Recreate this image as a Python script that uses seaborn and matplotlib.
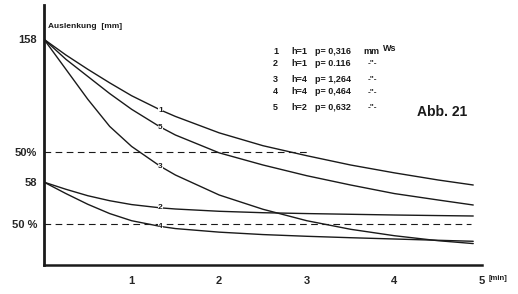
import numpy as np
import pandas as pd
import matplotlib
matplotlib.use("Agg")
import matplotlib.pyplot as plt
import seaborn as sns

# ---- data ----
t = [0, 0.25, 0.5, 0.75, 1, 1.33, 1.5, 2, 2.5, 3, 3.5, 4, 4.5, 4.9]
curve1 = [158, 147, 137, 127.5, 118.5, 108.5, 104, 92.5, 83.5, 76.5, 70, 64.5, 59.5, 56]
curve5 = [158, 144, 132, 120, 109, 96.5, 91, 78.5, 70, 62.5, 56, 50, 45.5, 42]
curve3 = [158, 137, 116, 97, 83, 69, 63, 49, 39, 31, 25, 20.5, 17, 15]
curve2 = [58, 53, 48.5, 45, 42.3, 40, 39.2, 37.6, 36.6, 36, 35.5, 35, 34.6, 34.3]
curve4 = [58, 50, 42.5, 36, 31, 27, 25.5, 23, 21.3, 20.1, 19.1, 18.2, 17.3, 16.6]
curve_names = ["1", "5", "3", "2", "4"]
label_x = 1.33
label_y = [108.5, 96.5, 69, 40, 27]

half_levels = [79, 29]
half_ends = [3.0, 4.87]

ytick_vals = [158, 79, 58, 29]
ytick_labels = ["158", "50%", "58", "50 %"]
xtick_vals = [1, 2, 3, 4, 5]

legend_rows = [
    ("1", "h=1", "p= 0,316", "mm"),
    ("2", "h=1", "p= 0.116", '-"-'),
    ("3", "h=4", "p= 1,264", '-"-'),
    ("4", "h=4", "p= 0,464", '-"-'),
    ("5", "h=2", "p= 0,632", '-"-'),
]

rows = []
for name, ys in zip(curve_names, [curve1, curve5, curve3, curve2, curve4]):
    for xv, yv in zip(t, ys):
        rows.append({"curve": name, "t": xv, "y": yv})
df = pd.DataFrame(rows)

sns.set_style("white")
plt.rcParams["font.family"] = ["Liberation Sans", "DejaVu Sans"]

fig = plt.figure(figsize=(5.18, 2.94), dpi=100)
ax = fig.add_axes([44 / 518, 29 / 294, 438 / 518, 260 / 294])

sns.lineplot(data=df, x="t", y="y", hue="curve", units="curve", estimator=None,
             palette={n: "#1a1a1a" for n in curve_names}, linewidth=1.0,
             legend=False, ax=ax)

for lvl, xe in zip(half_levels, half_ends):
    ax.plot([0, xe], [lvl, lvl], color="#1a1a1a", lw=0.8, dashes=(6, 4))

for name, ly in zip(curve_names, label_y):
    ax.text(label_x, ly, name, ha="center", va="center", fontsize=6,
            fontweight="bold", color="#1a1a1a",
            bbox=dict(facecolor="white", edgecolor="none", pad=0.3))

ax.set_xlim(0, 5)
ax.set_ylim(0, 182)
ax.set_xlabel("")
ax.set_ylabel("")

ax.set_xticks(xtick_vals)
ax.set_xticklabels([str(v) for v in xtick_vals], fontsize=8, fontweight="bold")
ax.set_yticks(ytick_vals)
ax.set_yticklabels(ytick_labels, fontsize=8, fontweight="bold")
ax.tick_params(axis="y", direction="out", length=4, width=1.5, pad=1, color="#1a1a1a")
ax.tick_params(axis="x", direction="inout", length=6, width=1.2, pad=5, color="#1a1a1a")
yt = ax.yaxis.get_major_ticks()
for i in (1, 3):
    yt[i].tick1line.set_visible(False)

for s in ("top", "right"):
    ax.spines[s].set_visible(False)
ax.spines["left"].set_linewidth(2.0)
ax.spines["bottom"].set_linewidth(1.8)
ax.spines["left"].set_color("#1a1a1a")
ax.spines["bottom"].set_color("#1a1a1a")

ax.text(5.07, -9.5, "[min]", fontsize=5.5, fontweight="bold", va="center",
        ha="left", color="#1a1a1a", clip_on=False)

fig.text(48 / 518, 1 - 26 / 294, "Auslenkung  [mm]", fontsize=6, fontweight="bold",
         va="center", ha="left", color="#1a1a1a")

row_y = [51, 63, 79, 92, 107]
for (a, b, c, d), ry in zip(legend_rows, row_y):
    yy = 1 - ry / 294
    fig.text(273 / 518, yy, a, fontsize=6.5, fontweight="bold", va="center", color="#1a1a1a")
    fig.text(291 / 518, yy, b, fontsize=6.5, fontweight="bold", va="center", color="#1a1a1a")
    fig.text(315 / 518, yy, c, fontsize=6.5, fontweight="bold", va="center", color="#1a1a1a")
    if d == "mm":
        fig.text(363 / 518, yy, "mm", fontsize=6.5, fontweight="bold", va="center", color="#1a1a1a")
        fig.text(383 / 518, yy + 0.008, "Ws", fontsize=6.5, fontweight="bold", va="center", color="#1a1a1a")
    else:
        fig.text(368 / 518, yy, d, fontsize=6, fontweight="bold", va="center", color="#1a1a1a")

fig.text(417 / 518, 1 - 112 / 294, "Abb. 21", fontsize=10, fontweight="bold",
         va="center", ha="left", color="#1a1a1a")

fig.savefig("out.png", dpi=100, facecolor="white")
